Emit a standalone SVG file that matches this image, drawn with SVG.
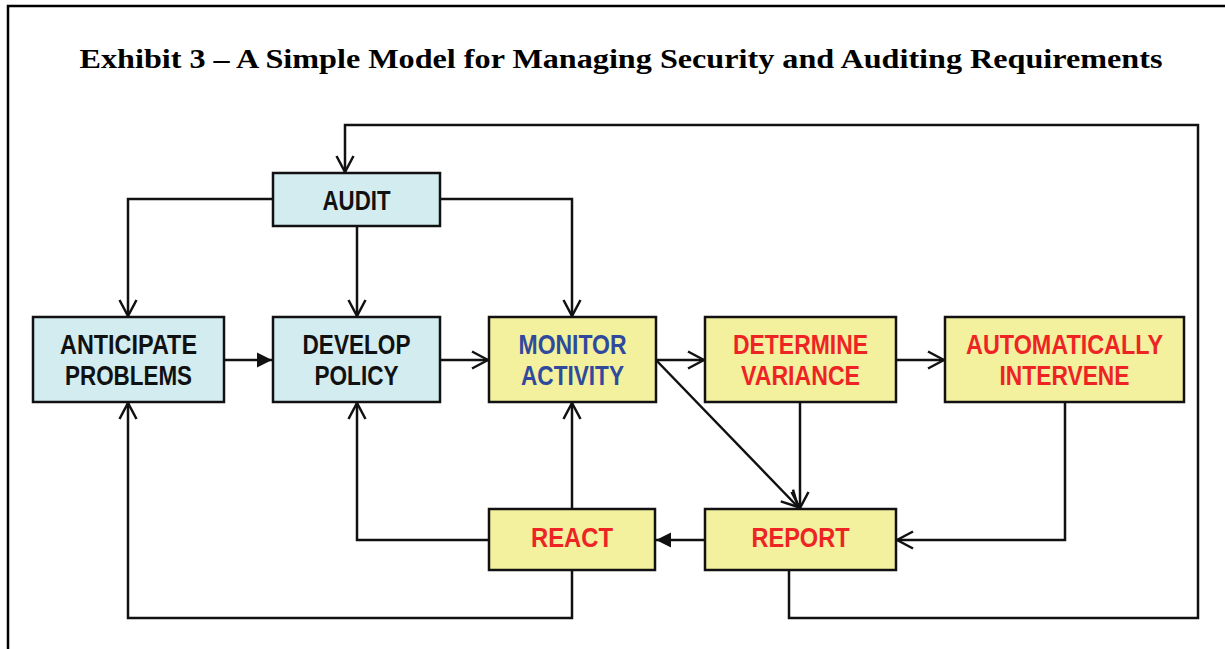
<svg xmlns="http://www.w3.org/2000/svg" width="1225" height="649" viewBox="0 0 1225 649">
  <style>
    .frame { fill: #ffffff; stroke: #000000; stroke-width: 2.5; }
    .box { stroke: #111111; stroke-width: 2.5; }
    .blue { fill: #d2ecf0; }
    .yellow { fill: #f3f09e; }
    .lbl { font-family: "Liberation Sans Narrow", "Liberation Sans", Arial, sans-serif; font-weight: bold; font-size: 27px; text-anchor: middle; }
    .dark { fill: #111111; }
    .navy { fill: #2f4a9c; }
    .red { fill: #ee2424; }
    .title { font-family: "Liberation Serif", "Times New Roman", serif; font-weight: bold; font-size: 28px; text-anchor: middle; fill: #000000; }
    .wire { fill: none; stroke: #111111; stroke-width: 2.5; }
  </style>
  <defs>
    <!-- open chevron head -->
    <marker id="open" viewBox="0 0 20 20" refX="18" refY="10" markerWidth="20" markerHeight="20" markerUnits="userSpaceOnUse" orient="auto">
      <path d="M2,1.5 L18,10 L2,18.5" fill="none" stroke="#111111" stroke-width="2.5"/>
    </marker>
    <!-- filled triangle head -->
    <marker id="solid" viewBox="0 0 16 16" refX="15" refY="8" markerWidth="16" markerHeight="16" markerUnits="userSpaceOnUse" orient="auto">
      <path d="M0,0.5 L15,8 L0,15.5 Z" fill="#111111"/>
    </marker>
  </defs>

  <rect class="frame" x="8" y="6" width="1230" height="660"/>
  <text class="title" x="621" y="68" textLength="1083" lengthAdjust="spacingAndGlyphs">Exhibit 3 – A Simple Model for Managing Security and Auditing Requirements</text>

  <g id="connectors">
    <path class="wire" d="M789,570 V618 H1198 V125 H345 V172" marker-end="url(#open)"/>
    <path class="wire" d="M273,199 H128 V316" marker-end="url(#open)"/>
    <path class="wire" d="M357,226 V316" marker-end="url(#open)"/>
    <path class="wire" d="M440,199 H572 V316" marker-end="url(#open)"/>
    <path class="wire" d="M224,360 H272" marker-end="url(#solid)"/>
    <path class="wire" d="M440,360 H488" marker-end="url(#open)"/>
    <path class="wire" d="M656,360 H704" marker-end="url(#open)"/>
    <path class="wire" d="M896,360 H944" marker-end="url(#open)"/>
    <path class="wire" d="M656,360 L798,507" marker-end="url(#open)"/>
    <path class="wire" d="M800,402 V508" marker-end="url(#open)"/>
    <path class="wire" d="M1065,402 V540 H897" marker-end="url(#open)"/>
    <path class="wire" d="M705,540 H656" marker-end="url(#solid)"/>
    <path class="wire" d="M572,509 V403" marker-end="url(#open)"/>
    <path class="wire" d="M489,540 H357 V403" marker-end="url(#open)"/>
    <path class="wire" d="M572,570 V618 H128 V403" marker-end="url(#open)"/>
  </g>

  <g id="audit">
    <rect class="box blue" x="273" y="173" width="167" height="53"/>
    <text class="lbl dark" x="356.5" y="210" textLength="68" lengthAdjust="spacingAndGlyphs">AUDIT</text>
  </g>
  <g id="anticipate-problems">
    <rect class="box blue" x="33" y="317" width="191" height="85"/>
    <text class="lbl dark" x="128.5" y="354" textLength="137" lengthAdjust="spacingAndGlyphs">ANTICIPATE</text>
    <text class="lbl dark" x="128.5" y="385" textLength="127" lengthAdjust="spacingAndGlyphs">PROBLEMS</text>
  </g>
  <g id="develop-policy">
    <rect class="box blue" x="273" y="317" width="167" height="85"/>
    <text class="lbl dark" x="356.5" y="354" textLength="108" lengthAdjust="spacingAndGlyphs">DEVELOP</text>
    <text class="lbl dark" x="356.5" y="385" textLength="84" lengthAdjust="spacingAndGlyphs">POLICY</text>
  </g>
  <g id="monitor-activity">
    <rect class="box yellow" x="489" y="317" width="167" height="85"/>
    <text class="lbl navy" x="572.5" y="354" textLength="108" lengthAdjust="spacingAndGlyphs">MONITOR</text>
    <text class="lbl navy" x="572.5" y="385" textLength="103" lengthAdjust="spacingAndGlyphs">ACTIVITY</text>
  </g>
  <g id="determine-variance">
    <rect class="box yellow" x="705" y="317" width="191" height="85"/>
    <text class="lbl red" x="800.5" y="354" textLength="135" lengthAdjust="spacingAndGlyphs">DETERMINE</text>
    <text class="lbl red" x="800.5" y="385" textLength="119" lengthAdjust="spacingAndGlyphs">VARIANCE</text>
  </g>
  <g id="automatically-intervene">
    <rect class="box yellow" x="945" y="317" width="239" height="85"/>
    <text class="lbl red" x="1064.5" y="354" textLength="197" lengthAdjust="spacingAndGlyphs">AUTOMATICALLY</text>
    <text class="lbl red" x="1064.5" y="385" textLength="130" lengthAdjust="spacingAndGlyphs">INTERVENE</text>
  </g>
  <g id="react">
    <rect class="box yellow" x="489" y="509" width="166" height="61"/>
    <text class="lbl red" x="572" y="547" textLength="82" lengthAdjust="spacingAndGlyphs">REACT</text>
  </g>
  <g id="report">
    <rect class="box yellow" x="705" y="509" width="191" height="61"/>
    <text class="lbl red" x="800.5" y="547" textLength="98" lengthAdjust="spacingAndGlyphs">REPORT</text>
  </g>
</svg>
